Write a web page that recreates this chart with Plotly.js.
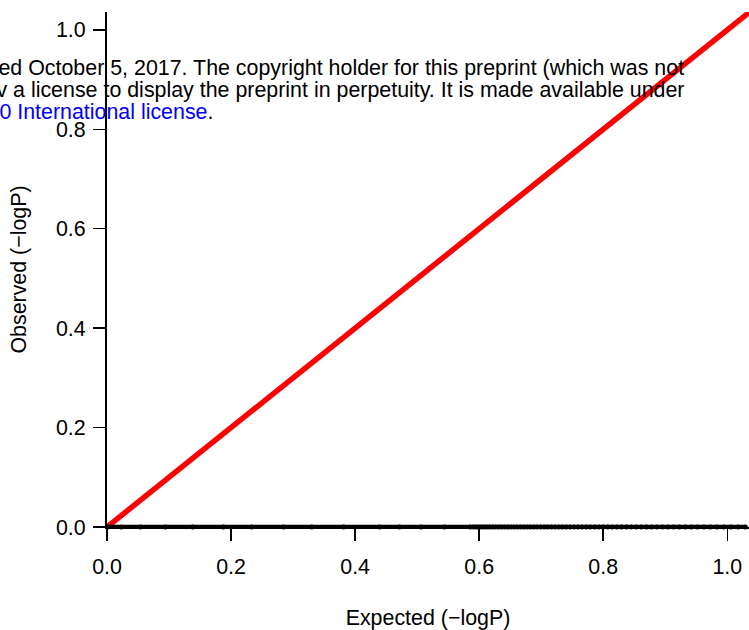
<!DOCTYPE html>
<html>
<head>
<meta charset="utf-8">
<script src="https://cdn.plot.ly/plotly-3.0.1.min.js"></script>
<style>
  html, body { margin: 0; padding: 0; background: #ffffff; }
  #chart { width: 749px; height: 630px; }
</style>
</head>
<body>
<div id="chart"></div>
<script>
// Q-Q plot: expected vs observed -log10(P)
const expected = [
  1.0292, 1.0173, 1.0057, 0.9944, 0.9834, 0.9727, 0.9623, 0.9520, 0.9420, 0.9323,
  0.9227, 0.9134, 0.9043, 0.8953, 0.8865, 0.8779, 0.8695, 0.8612, 0.8531, 0.8451,
  0.8373, 0.8296, 0.8221, 0.8146, 0.8073, 0.8002, 0.7931, 0.7862, 0.7793, 0.7726,
  0.7660, 0.7594, 0.7530, 0.7467, 0.7404, 0.7342, 0.7282, 0.7222, 0.7163, 0.7104,
  0.7047, 0.6990, 0.6934, 0.6879, 0.6824, 0.6770, 0.6717, 0.6664, 0.6612, 0.6561,
  0.6510, 0.6460, 0.6410, 0.6361, 0.6313, 0.6265, 0.6217, 0.6170, 0.6124, 0.6078,
  0.6032, 0.5987, 0.5943, 0.5899, 0.5855, 0.5441, 0.5063, 0.4716, 0.4394, 0.3814,
  0.3302, 0.2845, 0.2333, 0.1876, 0.1383, 0.0941, 0.0540, 0.0232, 0.0012
];
const observed = [
  0, 0, 0, 0, 0, 0, 0, 0, 0, 0,
  0, 0, 0, 0, 0, 0, 0, 0, 0, 0,
  0, 0, 0, 0, 0, 0, 0, 0, 0, 0,
  0, 0, 0, 0, 0, 0, 0, 0, 0, 0,
  0, 0, 0, 0, 0, 0, 0, 0, 0, 0,
  0, 0, 0, 0, 0, 0, 0, 0, 0, 0,
  0, 0, 0, 0, 0, 0, 0, 0, 0, 0,
  0, 0, 0, 0, 0, 0, 0, 0, 0
];
// reference diagonal y = x
const diagX = [0, 1.1];
const diagY = [0, 1.1];

const tickVals = [0, 0.2, 0.4, 0.6, 0.8, 1.0];
const tickText = ["0.0", "0.2", "0.4", "0.6", "0.8", "1.0"];

const font = { family: "Liberation Sans, Arial, Helvetica, sans-serif", size: 21.4, color: "#000000" };

const traces = [
  {
    x: diagX, y: diagY,
    type: "scatter", mode: "lines",
    line: { color: "#ff0000", width: 5.5 },
    hoverinfo: "skip", showlegend: false
  },
  {
    x: expected, y: observed,
    type: "scatter", mode: "lines+markers",
    line: { color: "#000000", width: 4.5 },
    marker: { color: "#000000", size: 5 },
    cliponaxis: false,
    showlegend: false
  }
];

const layout = {
  width: 749, height: 630,
  margin: { l: 107, r: 0, t: 12, b: 103, pad: 0 },
  paper_bgcolor: "#ffffff",
  plot_bgcolor: "#ffffff",
  font: font,
  showlegend: false,
  xaxis: {
    range: [0, 1.035],
    tickvals: tickVals, ticktext: tickText,
    ticks: "outside", ticklen: 12, tickwidth: 1.5, tickcolor: "#000000",
    ticklabelstandoff: 7,
    showline: true, linecolor: "#000000", linewidth: 2,
    showgrid: false, zeroline: false,
    tickfont: font,
    title: { text: "Expected (\u2212logP)", font: font, standoff: 40 },
    automargin: false
  },
  yaxis: {
    range: [0, 1.036],
    tickvals: tickVals, ticktext: tickText,
    ticks: "outside", ticklen: 12, tickwidth: 1.5, tickcolor: "#000000",
    ticklabelstandoff: 3,
    showline: true, linecolor: "#000000", linewidth: 2,
    showgrid: false, zeroline: false,
    tickfont: font,
    title: { text: "Observed (\u2212logP)", font: font, standoff: 23 },
    automargin: false
  },
  annotations: [
    {
      xref: "paper", yref: "paper", x: 0.9019, y: 0.891,
      xanchor: "right", yanchor: "middle", showarrow: false,
      text: "posted October 5, 2017. The copyright holder for this preprint (which was not",
      font: font
    },
    {
      xref: "paper", yref: "paper", x: 0.9035, y: 0.8485,
      xanchor: "right", yanchor: "middle", showarrow: false,
      text: "bioRxiv a license to display the preprint in perpetuity. It is made available under",
      font: font
    },
    {
      xref: "paper", yref: "paper", x: 0.168, y: 0.806,
      xanchor: "right", yanchor: "middle", showarrow: false,
      text: "<span style=\"color:#0000ff\">CC-BY-NC-ND 4.0 International license</span>.",
      font: font
    }
  ]
};

Plotly.newPlot("chart", traces, layout, { staticPlot: true, displayModeBar: false });
</script>
</body>
</html>
